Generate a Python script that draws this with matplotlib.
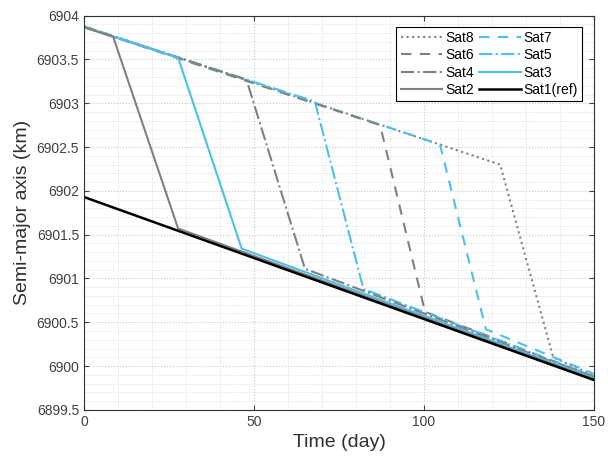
import numpy as np
import matplotlib
matplotlib.use('Agg')
import matplotlib.pyplot as plt
from matplotlib.ticker import MultipleLocator

plt.rcParams['font.family'] = ['Liberation Sans', 'DejaVu Sans']

#==============================================================================
# Data (breakpoints)
#==============================================================================
t1 = [0, 150]
a1 = [6901.93, 6899.84]
t2 = [0, 8.6, 27.7, 150]
a2 = [6903.87, 6903.76, 6901.57, 6899.85]
t3 = [0, 27.7, 46.4, 150]
a3 = [6903.87, 6903.52, 6901.34, 6899.86]
t4 = [0, 47.8, 65.0, 150]
a4 = [6903.87, 6903.27, 6901.11, 6899.87]
t5 = [0, 67.9, 82.2, 150]
a5 = [6903.87, 6903.02, 6900.88, 6899.88]
t6 = [0, 87.1, 100.3, 150]
a6 = [6903.87, 6902.75, 6900.62, 6899.88]
t7 = [0, 104.7, 118.2, 150]
a7 = [6903.88, 6902.53, 6900.42, 6899.91]
t8 = [0, 122.4, 138.0, 150]
a8 = [6903.88, 6902.30, 6900.10, 6899.89]

gray = (0.5, 0.5, 0.5)
blue = (0.30, 0.75, 0.93)

#==============================================================================
# Plot
#==============================================================================
fig = plt.figure(figsize=(6.08, 4.61), dpi=100)
ax = fig.add_axes([0.138, 0.111, 0.839, 0.855])

l8, = ax.plot(t8, a8, color=gray, ls=':', lw=1.5, label='Sat8')
l7, = ax.plot(t7, a7, color=blue, ls=(0, (5, 4)), lw=1.5, label='Sat7')
l6, = ax.plot(t6, a6, color=gray, ls=(0, (5, 4)), lw=1.5, label='Sat6')
l5, = ax.plot(t5, a5, color=blue, ls='-.', lw=1.5, label='Sat5')
l4, = ax.plot(t4, a4, color=gray, ls='-.', lw=1.5, label='Sat4')
l3, = ax.plot(t3, a3, color=blue, ls='-', lw=1.5, label='Sat3')
l2, = ax.plot(t2, a2, color=gray, ls='-', lw=1.5, label='Sat2')
l1, = ax.plot(t1, a1, color='black', ls='-', lw=1.8, label='Sat1(ref)')

ax.set_xlim(0, 150)
ax.set_ylim(6899.5, 6904)
ax.xaxis.set_major_locator(MultipleLocator(50))
ax.xaxis.set_minor_locator(MultipleLocator(10))
ax.yaxis.set_major_locator(MultipleLocator(0.5))
ax.yaxis.set_minor_locator(MultipleLocator(0.1))
ax.set_yticklabels([f'{v:g}' for v in ax.get_yticks()])

ax.grid(which='major', color='#c8c8c8', ls=':', lw=0.8)
ax.grid(which='minor', color='#dcdcdc', ls=':', lw=0.7)
ax.set_axisbelow(True)

ax.tick_params(which='both', direction='in', top=True, right=True, labelsize=10, colors='#404040')
ax.tick_params(which='minor', length=0)
for s in ax.spines.values():
    s.set_color('#303030')
    s.set_linewidth(0.8)

ax.set_xlabel('Time (day)', fontsize=14, color='#303030')
ax.set_ylabel('Semi-major axis (km)', fontsize=14, color='#303030')

handles = [l8, l6, l4, l2, l7, l5, l3, l1]
leg = ax.legend(handles=handles, labels=[h.get_label() for h in handles], ncol=2,
                loc='upper right', bbox_to_anchor=(0.977, 0.972), fancybox=False,
                edgecolor='black', framealpha=1, fontsize=10, handlelength=3.0,
                handletextpad=0.2, columnspacing=0.4, labelspacing=0.25,
                borderpad=0.3, borderaxespad=0)
leg.get_frame().set_linewidth(0.8)

plt.savefig('out.png', dpi=100)
